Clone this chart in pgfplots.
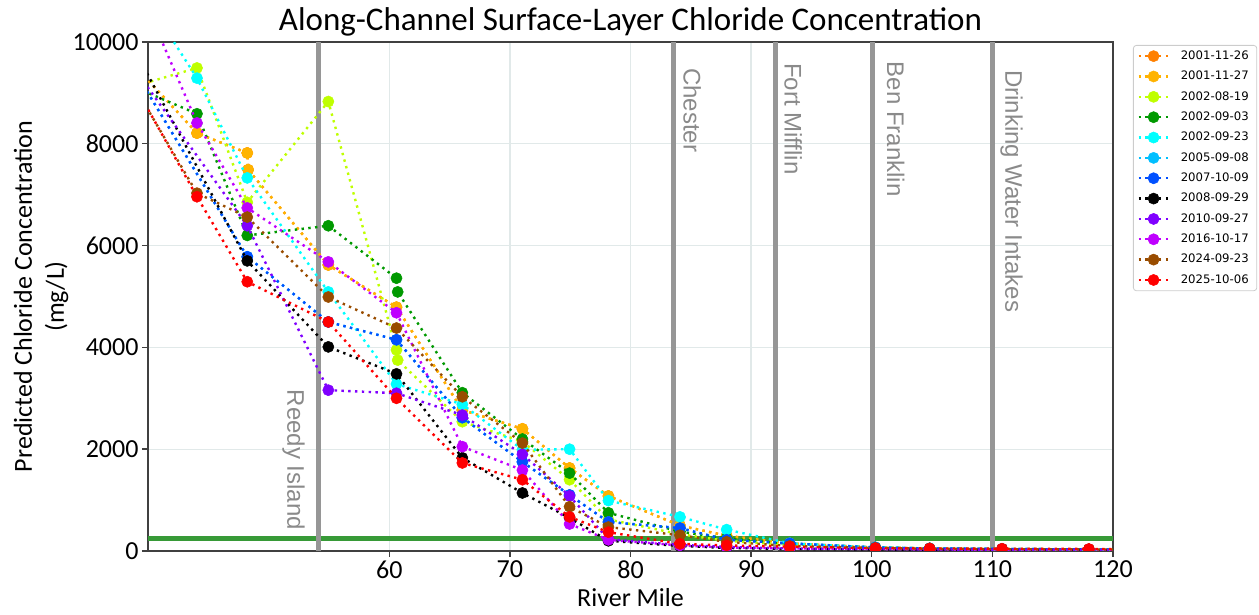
\documentclass[border=0pt]{standalone}
\usepackage{pgfplots}
\pgfplotsset{compat=1.18}
\usepackage{fontspec}
\setmainfont{Carlito}
\newfontfamily\sitefont{Liberation Sans}
\newfontfamily\legfont{DejaVu Sans}

\definecolor{cDarkOrange}{HTML}{FF8000}
\definecolor{cOrange}{HTML}{FFB300}
\definecolor{cLime}{HTML}{BFFF00}
\definecolor{cGreen}{HTML}{009900}
\definecolor{cCyan}{HTML}{00FFFF}
\definecolor{cSky}{HTML}{00BFFF}
\definecolor{cBlue}{HTML}{0050FF}
\definecolor{cBlack}{HTML}{000000}
\definecolor{cViolet}{HTML}{8000FF}
\definecolor{cMagenta}{HTML}{BF00FF}
\definecolor{cBrown}{HTML}{994C00}
\definecolor{cRed}{HTML}{FF0000}
\definecolor{gridc}{HTML}{E1E9E9}
\definecolor{axisc}{HTML}{404040}
\definecolor{sitec}{HTML}{969696}
\definecolor{sitetext}{HTML}{8A8A8A}
\definecolor{limitc}{HTML}{379A37}
\definecolor{legframe}{HTML}{CCCCCC}

\pgfplotsset{
  ser/.style={color=#1, mark=*, mark size=5.6pt, line width=2.4pt,
    dash pattern=on 2.4pt off 4.4pt,
    mark options={solid, line width=0.5pt, fill=#1}},
  siteline/.style={color=sitec, line width=5pt, forget plot},
}

\begin{document}
\begin{tikzpicture}
\useasboundingbox (-148pt,-64pt) rectangle (1111pt,551pt);
\begin{axis}[
  at={(0pt,0pt)}, anchor=south west,
  scale only axis, width=965pt, height=509pt,
  xmin=40, xmax=120, ymin=0, ymax=10000,
  xtick={60,70,...,120}, ytick={0,2000,...,10000},
  scaled y ticks=false,
  grid=major, major grid style={color=gridc, line width=1.3pt},
  tick align=outside, tick pos=left, major tick length=6pt,
  axis line style={color=axisc, line width=1.4pt},
  every tick/.style={color=axisc, line width=1.4pt},
  ticklabel style={font=\fontsize{26}{30}\selectfont},
  /pgf/number format/assume math mode=true,
  /pgf/number format/1000 sep={},
  clip marker paths=true,
  title={Along-Channel Surface-Layer Chloride Concentration},
  title style={font=\fontsize{33}{38}\selectfont, inner sep=0pt, at={(axis description cs:0.5,1)}, anchor=base, yshift=5pt},
  xlabel={River Mile},
  xlabel style={font=\fontsize{26}{30}\selectfont, at={(axis description cs:0.5,0)}, anchor=north, yshift=-34pt},
  ylabel={Predicted Chloride Concentration\\(mg/L)},
  ylabel style={font=\fontsize{26}{32}\selectfont, align=center, at={(axis description cs:0,0.5)}, anchor=center, yshift=107pt},
  legend style={at={(axis description cs:1,1)}, anchor=north west, xshift=20pt, yshift=-3pt,
    font=\legfont\fontsize{11.7}{14}\selectfont, draw=legframe, line width=0.8pt, rounded corners=3pt,
    row sep=8.85pt, inner xsep=4pt, inner ysep=5pt,
    nodes={inner xsep=4pt, inner ysep=0pt, text height=9pt, text depth=2.5pt}},
  legend cell align=left,
  legend image code/.code={\draw[mark repeat=2, mark phase=2, #1] plot coordinates {(0pt,0pt) (15pt,0pt) (30pt,0pt)};\path (37pt,0pt);},
]

% 250 mg/L reference level and landmark river miles
\addplot[color=limitc, line width=5pt, forget plot] coordinates {(40,250) (120,250)};
\addplot[siteline] coordinates {(54.1,0) (54.1,10000)};
\addplot[siteline] coordinates {(83.6,0) (83.6,10000)};
\addplot[siteline] coordinates {(92.0,0) (92.0,10000)};
\addplot[siteline] coordinates {(100.1,0) (100.1,10000)};
\addplot[siteline] coordinates {(110.0,0) (110.0,10000)};

% 2001-11-26
\addplot[ser=cDarkOrange] coordinates {
 (37,10020) (44.06,8210) (48.23,7820) (48.3,7490) (54.95,5620) (60.6,4790) (66.06,2770)
 (71.04,2400) (74.95,1630) (78.17,1080) (84.1,500) (87.97,300) (93.2,150) (100.3,70)
 (104.8,50) (110.8,40) (118.0,30) (123,30)};
\addlegendentry{2001-11-26}
% 2001-11-27
\addplot[ser=cOrange] coordinates {
 (37,10020) (44.06,8210) (48.23,7820) (48.3,7490) (54.95,5620) (60.6,4790) (66.06,2770)
 (71.04,2400) (74.95,1630) (78.17,1080) (84.1,500) (87.97,300) (93.2,150) (100.3,70)
 (104.8,50) (110.8,40) (118.0,30) (123,30)};
\addlegendentry{2001-11-27}
% 2002-08-19
\addplot[ser=cLime] coordinates {
 (37,9000) (44.06,9490) (48.23,6850) (54.95,8830) (60.6,3950) (60.7,3750) (66.06,2540)
 (71.04,2150) (74.95,1400) (78.17,620) (84.1,330) (87.97,200) (93.2,120) (100.3,60)
 (104.8,45) (110.8,35) (118.0,30) (123,30)};
\addlegendentry{2002-08-19}
% 2002-09-03
\addplot[ser=cGreen] coordinates {
 (37,9300) (44.06,8590) (48.23,6200) (54.95,6390) (60.6,5360) (60.7,5090) (66.06,3110)
 (71.04,2200) (74.95,1530) (78.17,750) (84.1,380) (87.97,250) (93.2,140) (100.3,70)
 (104.8,50) (110.8,40) (118.0,30) (123,30)};
\addlegendentry{2002-09-03}
% 2002-09-23
\addplot[ser=cCyan] coordinates {
 (37,11910) (44.06,9290) (48.23,7330) (54.95,5090) (60.6,3280) (66.06,2880) (71.04,1990)
 (74.95,2000) (78.17,990) (84.1,670) (87.97,420) (93.2,150) (100.3,70) (104.8,50)
 (110.8,40) (118.0,30) (123,30)};
\addlegendentry{2002-09-23}
% 2005-09-08
\addplot[ser=cSky] coordinates {
 (37,10170) (48.23,5780) (54.95,4500) (60.6,4150) (66.06,2620) (71.04,1750) (74.95,1100)
 (78.17,570) (84.1,450) (87.97,220) (93.2,150) (100.3,70) (104.8,50) (110.8,40)
 (118.0,30) (123,30)};
\addlegendentry{2005-09-08}
% 2007-10-09
\addplot[ser=cBlue] coordinates {
 (37,10170) (48.23,5780) (54.95,4500) (60.6,4150) (66.06,2620) (71.04,1750) (74.95,1100)
 (78.17,570) (84.1,450) (87.97,220) (93.2,150) (100.3,70) (104.8,50) (110.8,40)
 (118.0,30) (123,30)};
\addlegendentry{2007-10-09}
% 2008-09-29
\addplot[ser=cBlack] coordinates {
 (37,10680) (48.23,5700) (54.95,4010) (60.6,3480) (66.06,1830) (71.04,1140) (74.95,650)
 (78.17,200) (84.1,100) (87.97,60) (93.2,40) (100.3,30) (104.8,25) (110.8,20)
 (118.0,20) (123,20)};
\addlegendentry{2008-09-29}
% 2010-09-27
\addplot[ser=cViolet] coordinates {
 (37,10090) (48.23,6390) (54.95,3160) (60.6,3100) (66.06,2670) (71.04,1900) (74.95,1080)
 (78.17,230) (84.1,120) (87.97,80) (93.2,50) (100.3,40) (104.8,30) (110.8,25)
 (118.0,20) (123,20)};
\addlegendentry{2010-09-27}
% 2016-10-17
\addplot[ser=cMagenta] coordinates {
 (37,12300) (44.06,8410) (48.23,6740) (54.95,5680) (60.6,4680) (66.06,2050) (71.04,1590)
 (74.95,530) (78.17,220) (84.1,110) (87.97,70) (93.2,50) (100.3,40) (104.8,30)
 (110.8,25) (118.0,20) (123,20)};
\addlegendentry{2016-10-17}
% 2024-09-23
\addplot[ser=cBrown] coordinates {
 (37,9880) (44.06,7030) (48.23,6560) (54.95,4990) (60.6,4380) (66.06,3030) (71.04,2120)
 (74.95,870) (78.17,470) (84.1,310) (87.97,180) (93.2,100) (100.3,60) (104.8,45)
 (110.8,35) (118.0,30) (123,30)};
\addlegendentry{2024-09-23}
% 2025-10-06
\addplot[ser=cRed] coordinates {
 (37,9950) (44.06,6960) (48.23,5290) (54.95,4500) (60.6,3000) (66.06,1730) (71.04,1400)
 (74.95,670) (78.17,370) (84.1,140) (87.97,110) (93.2,85) (100.3,55) (104.8,50)
 (110.8,45) (118.0,40) (123,35)};
\addlegendentry{2025-10-06}

% landmark names
\begin{scope}[every node/.style={rotate=-90, inner sep=0pt, text=sitetext, font=\sitefont\fontsize{24}{27}\selectfont}]
\node[anchor=north east] at (axis cs:53.02,413) {Reedy Island};
\node[anchor=south west] at (axis cs:84.36,9490) {Chester};
\node[anchor=south west] at (axis cs:92.74,9590) {Fort Mifflin};
\node[anchor=south west] at (axis cs:101.24,9615) {Ben Franklin};
\node[anchor=south west] at (axis cs:110.65,9450) {Drinking Water Intakes};
\end{scope}
\end{axis}
\end{tikzpicture}
\end{document}
